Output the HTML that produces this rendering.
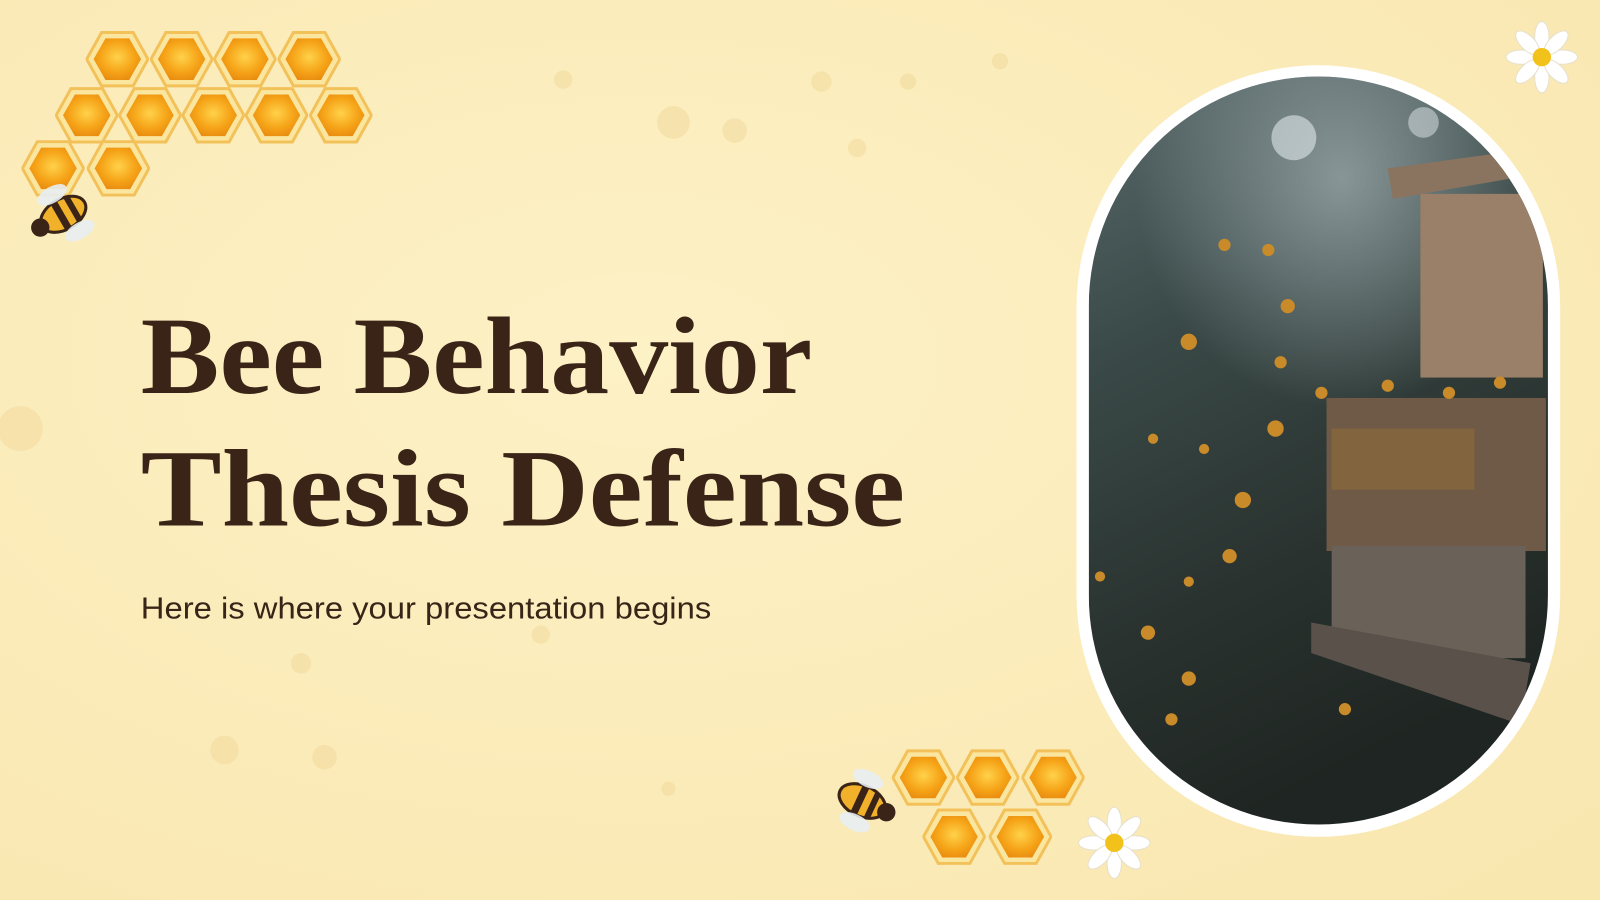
<!DOCTYPE html>
<html><head><meta charset="utf-8"><style>
html,body{margin:0;padding:0;width:1600px;height:900px;overflow:hidden;background:#fcefc0}
svg{display:block}
</style></head><body>
<svg width="1600" height="900" viewBox="0 0 1568 882" preserveAspectRatio="none" xmlns="http://www.w3.org/2000/svg">
<defs>
<radialGradient id="bg" cx="40%" cy="40%" r="80%"><stop offset="0" stop-color="#fdf1c6"/><stop offset="1" stop-color="#f9e7b0"/></radialGradient>
<radialGradient id="hexg" cx="50%" cy="45%" r="60%"><stop offset="0" stop-color="#ffd24a"/><stop offset="0.6" stop-color="#f6a418"/><stop offset="1" stop-color="#e88a10"/></radialGradient>
<linearGradient id="photo" x1="0" y1="0" x2="0.3" y2="1"><stop offset="0" stop-color="#5a6a6c"/><stop offset="0.35" stop-color="#3a4a48"/><stop offset="0.7" stop-color="#2a3330"/><stop offset="1" stop-color="#1f2522"/></linearGradient>
<radialGradient id="smoke" cx="55%" cy="20%" r="45%"><stop offset="0" stop-color="#9aa7aa" stop-opacity="0.8"/><stop offset="1" stop-color="#9aa7aa" stop-opacity="0"/></radialGradient>
<clipPath id="clip"><rect x="1067" y="75" width="450" height="733" rx="225" ry="225"/></clipPath>
<symbol id="hex" viewBox="-32 -30 64 60"><polygon points="-16,-27 16,-27 31,0 16,27 -16,27 -31,0" fill="#fbe6a0" stroke="#f3c15a" stroke-width="3"/><polygon points="-12,-21 12,-21 24,0 12,21 -12,21 -24,0" fill="url(#hexg)"/></symbol>
</defs>
<rect width="1568" height="882" fill="url(#bg)"/>
<g fill="#f1d89a" opacity="0.5">
<circle cx="552" cy="78" r="9"/><circle cx="660" cy="120" r="16"/><circle cx="720" cy="128" r="12"/><circle cx="805" cy="80" r="10"/><circle cx="840" cy="145" r="9"/><circle cx="890" cy="80" r="8"/><circle cx="980" cy="60" r="8"/><circle cx="220" cy="735" r="14"/><circle cx="318" cy="742" r="12"/><circle cx="295" cy="650" r="10"/><circle cx="655" cy="773" r="7"/><circle cx="530" cy="622" r="9"/><circle cx="20" cy="420" r="22"/>
</g>
<g>
<use href="#hex" x="84" y="28" width="62" height="60"/><use href="#hex" x="147" y="28" width="62" height="60"/><use href="#hex" x="209" y="28" width="62" height="60"/><use href="#hex" x="272" y="28" width="62" height="60"/>
<use href="#hex" x="54" y="83" width="62" height="60"/><use href="#hex" x="116" y="83" width="62" height="60"/><use href="#hex" x="178" y="83" width="62" height="60"/><use href="#hex" x="240" y="83" width="62" height="60"/><use href="#hex" x="303" y="83" width="62" height="60"/>
<use href="#hex" x="21" y="135" width="62" height="60"/><use href="#hex" x="85" y="135" width="62" height="60"/>
</g>
<g transform="translate(62,210) rotate(-30)">
<ellipse cx="0" cy="0" rx="24" ry="15" fill="#f2b12a" stroke="#3a2418" stroke-width="3"/><rect x="-6" y="-15" width="7" height="30" fill="#3a2418"/><rect x="8" y="-13" width="6" height="26" fill="#3a2418"/><circle cx="-26" cy="0" r="9" fill="#3a2418"/>
<ellipse cx="0" cy="-22" rx="16" ry="8" fill="#e8eef2" opacity="0.9"/><ellipse cx="6" cy="22" rx="16" ry="8" fill="#e8eef2" opacity="0.9"/>
</g>
<g>
<use href="#hex" x="874" y="732" width="62" height="60"/><use href="#hex" x="937" y="732" width="62" height="60"/><use href="#hex" x="1001" y="732" width="62" height="60"/>
<use href="#hex" x="904" y="790" width="62" height="60"/><use href="#hex" x="969" y="790" width="62" height="60"/>
</g>
<g transform="translate(845,785) rotate(25)">
<ellipse cx="0" cy="0" rx="24" ry="15" fill="#f2b12a" stroke="#3a2418" stroke-width="3"/><rect x="-6" y="-15" width="7" height="30" fill="#3a2418"/><rect x="8" y="-13" width="6" height="26" fill="#3a2418"/><circle cx="26" cy="0" r="9" fill="#3a2418"/>
<ellipse cx="-4" cy="-22" rx="16" ry="8" fill="#e8eef2" opacity="0.9"/><ellipse cx="2" cy="22" rx="16" ry="8" fill="#e8eef2" opacity="0.9"/>
</g>
<g transform="translate(1511,56)">
<g fill="#ffffff" stroke="#e6e0cc" stroke-width="1"><ellipse cx="0" cy="-20" rx="7" ry="15"/><ellipse cx="0" cy="20" rx="7" ry="15"/><ellipse cx="-20" cy="0" rx="15" ry="7"/><ellipse cx="20" cy="0" rx="15" ry="7"/><ellipse cx="14" cy="-14" rx="7" ry="15" transform="rotate(45 14 -14)"/><ellipse cx="-14" cy="14" rx="7" ry="15" transform="rotate(45 -14 14)"/><ellipse cx="-14" cy="-14" rx="7" ry="15" transform="rotate(-45 -14 -14)"/><ellipse cx="14" cy="14" rx="7" ry="15" transform="rotate(-45 14 14)"/></g>
<circle r="9" fill="#f2c21a"/></g>
<g transform="translate(1092,826)">
<g fill="#ffffff" stroke="#e6e0cc" stroke-width="1"><ellipse cx="0" cy="-20" rx="7" ry="15"/><ellipse cx="0" cy="20" rx="7" ry="15"/><ellipse cx="-20" cy="0" rx="15" ry="7"/><ellipse cx="20" cy="0" rx="15" ry="7"/><ellipse cx="14" cy="-14" rx="7" ry="15" transform="rotate(45 14 -14)"/><ellipse cx="-14" cy="14" rx="7" ry="15" transform="rotate(45 -14 14)"/><ellipse cx="-14" cy="-14" rx="7" ry="15" transform="rotate(-45 -14 -14)"/><ellipse cx="14" cy="14" rx="7" ry="15" transform="rotate(-45 14 14)"/></g>
<circle r="9" fill="#f2c21a"/></g>
<rect x="1055" y="64" width="474" height="756" rx="237" ry="237" fill="#ffffff"/>
<g clip-path="url(#clip)">
<rect x="1067" y="75" width="450" height="733" fill="url(#photo)"/>
<rect x="1067" y="75" width="450" height="500" fill="url(#smoke)"/>
<circle cx="1268" cy="135" r="22" fill="#dfe8ea" opacity="0.6"/><circle cx="1395" cy="120" r="15" fill="#dfe8ea" opacity="0.5"/>
<polygon points="1360,165 1470,150 1480,175 1365,195" fill="#8a7460"/>
<rect x="1392" y="190" width="120" height="180" fill="#9a8068"/>
<rect x="1300" y="390" width="215" height="150" fill="#6f5a47"/>
<rect x="1305" y="420" width="140" height="60" fill="#8a6a3a" opacity="0.7"/>
<rect x="1305" y="535" width="190" height="110" fill="#6a6258"/>
<polygon points="1285,610 1500,650 1490,710 1285,640" fill="#5a524a"/>
<g fill="#c98a2a">
<circle cx="1200" cy="240" r="6"/><circle cx="1243" cy="245" r="6"/><circle cx="1262" cy="300" r="7"/><circle cx="1165" cy="335" r="8"/><circle cx="1255" cy="355" r="6"/><circle cx="1295" cy="385" r="6"/><circle cx="1250" cy="420" r="8"/><circle cx="1130" cy="430" r="5"/><circle cx="1180" cy="440" r="5"/><circle cx="1218" cy="490" r="8"/><circle cx="1205" cy="545" r="7"/><circle cx="1165" cy="570" r="5"/><circle cx="1078" cy="565" r="5"/><circle cx="1125" cy="620" r="7"/><circle cx="1165" cy="665" r="7"/><circle cx="1148" cy="705" r="6"/><circle cx="1318" cy="695" r="6"/><circle cx="1420" cy="385" r="6"/><circle cx="1470" cy="375" r="6"/><circle cx="1360" cy="378" r="6"/>
</g>
</g>
<text x="138" y="385" font-family="Liberation Serif, serif" font-weight="bold" font-size="108" fill="#3a2418" textLength="658" lengthAdjust="spacingAndGlyphs">Bee Behavior</text>
<text x="138" y="515" font-family="Liberation Serif, serif" font-weight="bold" font-size="108" fill="#3a2418" textLength="749" lengthAdjust="spacingAndGlyphs">Thesis Defense</text>
<text x="138" y="606" font-family="Liberation Sans, sans-serif" font-size="30" fill="#3a2418" textLength="559" lengthAdjust="spacingAndGlyphs">Here is where your presentation begins</text>
</svg>
</body></html>
